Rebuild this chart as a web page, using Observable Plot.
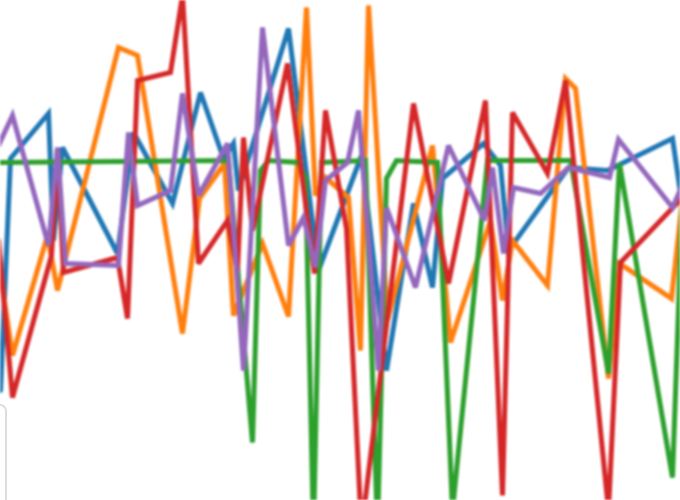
<!DOCTYPE html>
<html>
<head>
<meta charset="utf-8">
<script src="https://cdn.jsdelivr.net/npm/d3@7"></script>
<script src="https://cdn.jsdelivr.net/npm/@observablehq/plot@0.6"></script>
<style>
  html, body { margin: 0; padding: 0; background: #fff; }
  #wrap { position: relative; width: 680px; height: 500px; overflow: hidden; }
  #wrap svg { filter: blur(1.1px); }
  #box { position: absolute; left: -40px; top: 404px; width: 43px; height: 200px;
         border: 2px solid #ddd; border-radius: 7px; filter: blur(0.6px); }
</style>
</head>
<body>
<div id="wrap"><div id="box"></div></div>
<script>
const seriesNames = ["Series 1", "Series 2", "Series 3", "Series 4", "Series 5"];
const seriesColors = ["#1f77b4", "#ff7f0e", "#2ca02c", "#d62728", "#9467bd"];

const tBlue = [0, 1, 4.8, 5.3, 6.2, 11.7, 13.3, 17.2, 20, 22.3, 23.3, 23.8, 28.8, 31.8, 36.1, 38.6, 41.3, 43.2, 44.2, 48.3, 50, 50.8, 56.8, 60.7, 67.2, 68.4];
const vBlue = [-56, 36.8, 54.8, 4, 41.2, -1.2, 47.2, 18.8, 63.2, 36.8, 42.8, 24, 88.8, -8, 38, -48, 18.8, -14.8, 28.8, 42.8, 34, 0, 33.2, 32, 44.8, 12];

const tOrange = [-0.2, 1.2, 4.7, 5.7, 11.8, 13.7, 18.2, 19.9, 22.4, 23.3, 26.2, 28.8, 30.6, 31.5, 32.5, 34.8, 36, 36.8, 38.7, 43.2, 45, 49, 50.2, 51.2, 54.7, 56.5, 57.5, 60.8, 61.9, 67.1, 68.4];
const vOrange = [-4, -42, 6, -16, 81.2, 78, -33.2, 20.8, 34.8, -26, 2.8, -26.4, 97.2, 22, 29.2, 21.2, -40, 98, -28, 42, -36.8, 12, -20, 4, -14, 68.8, 64.8, -51.2, -5.2, -19.2, 28];

const tGreen = [0, 22.8, 25.2, 26, 26.8, 29.8, 30.5, 31.3, 32.1, 36.5, 37.7, 38.6, 39.6, 43.7, 45.2, 48.7, 57, 60.8, 61.9, 67.2, 68.4];
const vGreen = [35.2, 36, -76.8, 32, 36, 35.2, 28.8, -112, 35.2, 36, -112, 28.8, 36, 35.2, -104, 36, 36, -49.2, 34.8, -90.8, 44];

const tRed = [-0.2, 1.2, 5.1, 5.7, 6.3, 11.7, 12.7, 13.7, 17, 18.2, 19.8, 22.7, 23.7, 24.3, 25.2, 28.7, 31.4, 32.5, 34.6, 36.1, 38.5, 41.3, 44.8, 48.5, 50.2, 51.2, 54.7, 56.5, 60.8, 62, 68.4];
const vRed = [4, -58.8, -2, 40.8, -8.8, -2.8, -27.2, 68, 71.2, 102, -5.2, 12, -8, 45.2, 8, 74.8, -9.2, 56, 8.8, -112, -33.2, 58.8, -13.2, 60, -98, 55.2, 30.8, 68, -104, -4.8, 22];

const tPurple = [-0.2, 1.2, 4.8, 5.7, 6.5, 11.8, 12.8, 13.7, 17, 18.2, 19.8, 22.7, 24.3, 26.2, 28.8, 30.3, 31.5, 32.5, 34.7, 35.8, 37.8, 38.6, 41.5, 44.8, 48.4, 49.2, 50.3, 51.3, 54, 56.8, 60.9, 61.8, 67.2, 68.4];
const vPurple = [42, 54, 2, 41.2, -5.2, -6, 47.2, 18, 24, 62.8, 22, 42.8, -48, 89.2, 2, 13.2, -6.8, 28, 35.2, 56, -48, 17.2, -14.8, 42, 12, 33.2, -1.2, 25.2, 22.8, 33.2, 29.2, 44.4, 17.2, 28];

const seriesT = [tBlue, tOrange, tGreen, tRed, tPurple];
const seriesV = [vBlue, vOrange, vGreen, vRed, vPurple];

const rows = [];
seriesNames.forEach((name, i) => {
  seriesT[i].forEach((t, j) => rows.push({series: name, t, v: seriesV[i][j]}));
});

const chart = Plot.plot({
  width: 680,
  height: 500,
  margin: 0,
  x: {domain: [0, 68], axis: null},
  y: {domain: [-100, 100], axis: null},
  color: {type: "ordinal", domain: seriesNames, range: seriesColors},
  marks: [
    Plot.line(rows, {x: "t", y: "v", z: "series", stroke: "series", strokeWidth: 5, clip: true, strokeLinejoin: "miter", strokeMiterlimit: 3})
  ]
});
document.getElementById("wrap").appendChild(chart);
</script>
</body>
</html>
